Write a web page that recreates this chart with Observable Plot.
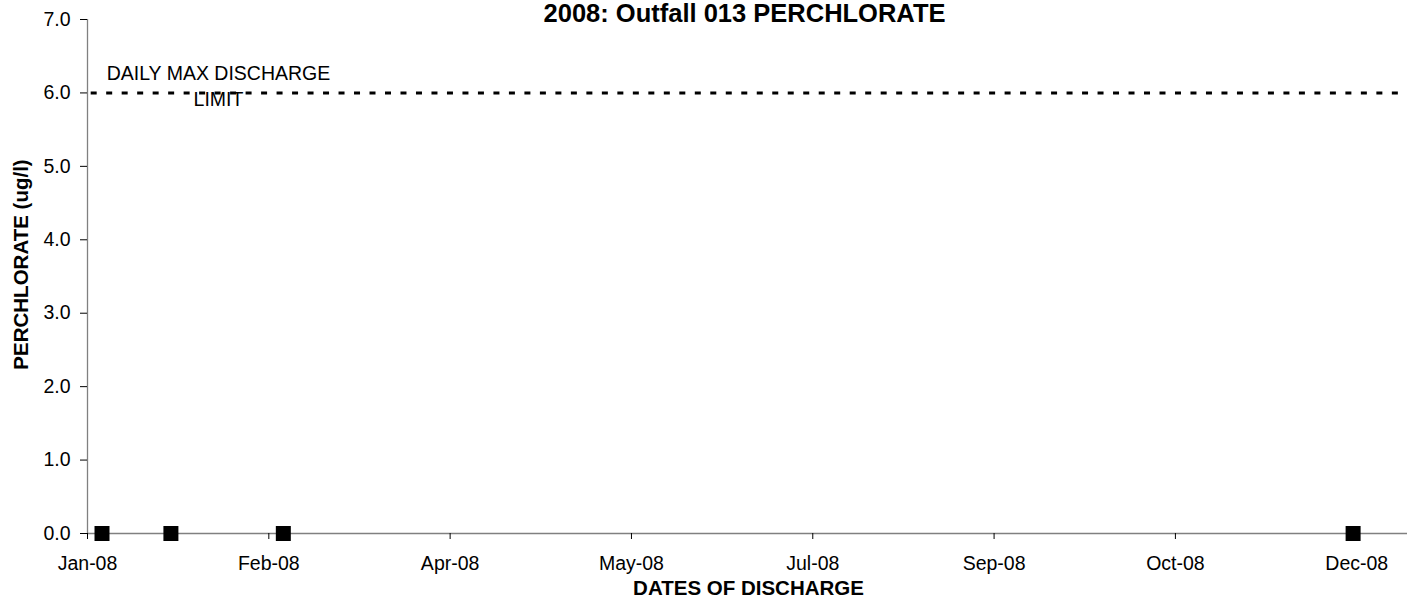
<!DOCTYPE html>
<html>
<head>
<meta charset="utf-8">
<script src="https://cdn.jsdelivr.net/npm/d3@7"></script>
<script src="https://cdn.jsdelivr.net/npm/@observablehq/plot@0.6"></script>
<style>
  html, body { margin: 0; padding: 0; background: #fff; }
  #chart svg { display: block; }
</style>
</head>
<body>
<div id="chart"></div>
<script>
// ---- data ----
const sampleDates = ["2008-01-05", "2008-01-24", "2008-02-24", "2008-12-15"];
const perchlorateValues = [0.0, 0.0, 0.0, 0.0];

const xTickDates = ["2008-01-01", "2008-02-20", "2008-04-10", "2008-05-30",
                    "2008-07-19", "2008-09-07", "2008-10-27", "2008-12-16"];
const xTickLabels = ["Jan-08", "Feb-08", "Apr-08", "May-08",
                     "Jul-08", "Sep-08", "Oct-08", "Dec-08"];
const xDomain = ["2008-01-01", "2008-12-30"];

const yTicks = [0, 1, 2, 3, 4, 5, 6, 7];
const yDomain = [0, 7];

const dischargeLimit = [6.0];
const limitLabel = ["DAILY MAX DISCHARGE\nLIMIT"];

const chartTitle = ["2008: Outfall 013 PERCHLORATE"];
const xTitle = ["DATES OF DISCHARGE"];
const yTitle = ["PERCHLORATE (ug/l)"];

// ---- build ----
const points = sampleDates.map((d, i) => ({date: new Date(d), value: perchlorateValues[i]}));
const tickDates = xTickDates.map(d => new Date(d));
const tickLabelMap = new Map(tickDates.map((d, i) => [d.getTime(), xTickLabels[i]]));
const start = new Date(xDomain[0]);

const FONT = "Arial, 'Liberation Sans', Helvetica, sans-serif";

const chart = Plot.plot({
  width: 1407,
  height: 599,
  marginLeft: 87,
  marginRight: 0,
  marginTop: 19,
  marginBottom: 66,
  style: {fontFamily: FONT, fontSize: "19.5px", color: "black", background: "white", overflow: "visible"},
  x: {type: "utc", domain: xDomain.map(d => new Date(d))},
  y: {domain: yDomain},
  marks: [
    // axis lines
    Plot.ruleY([0], {stroke: "#808080", strokeWidth: 1.3}),
    Plot.ruleX([start], {stroke: "#808080", strokeWidth: 1.3}),
    Plot.axisX({
      ticks: tickDates,
      tickFormat: d => tickLabelMap.get(d.getTime()),
      tickSize: 6,
      tickPadding: 17,
      label: null,
      stroke: "black"
    }),
    Plot.axisY({
      ticks: yTicks,
      tickFormat: d => d.toFixed(1),
      tickSize: 7,
      tickPadding: 10,
      label: null,
      stroke: "black"
    }),
    // limit line
    Plot.ruleY(dischargeLimit, {stroke: "black", strokeWidth: 3, strokeDasharray: "6,9.49", strokeDashoffset: 11.8}),
    Plot.text(limitLabel, {
      frameAnchor: "top-left", dx: 131, dy: 65,
      textAnchor: "middle", lineAnchor: "middle", lineHeight: 1.36,
      fontSize: 19.5, fill: "black"
    }),
    // data points
    Plot.dot(points, {x: "date", y: "value", symbol: "square", r: 8.46, fill: "black", stroke: "none"}),
    // titles
    Plot.text(chartTitle, {
      frameAnchor: "top", dx: -3, dy: -6, lineAnchor: "middle",
      fontSize: 25.5, fontWeight: "bold", fill: "black"
    }),
    Plot.text(xTitle, {
      frameAnchor: "bottom", dx: 1, dy: 55, lineAnchor: "middle",
      fontSize: 20.5, fontWeight: "bold", fill: "black"
    }),
    Plot.text(yTitle, {
      frameAnchor: "left", dx: -66, dy: -12, rotate: -90,
      textAnchor: "middle", lineAnchor: "middle",
      fontSize: 20.5, fontWeight: "bold", fill: "black"
    })
  ]
});

document.getElementById("chart").appendChild(chart);
</script>
</body>
</html>
